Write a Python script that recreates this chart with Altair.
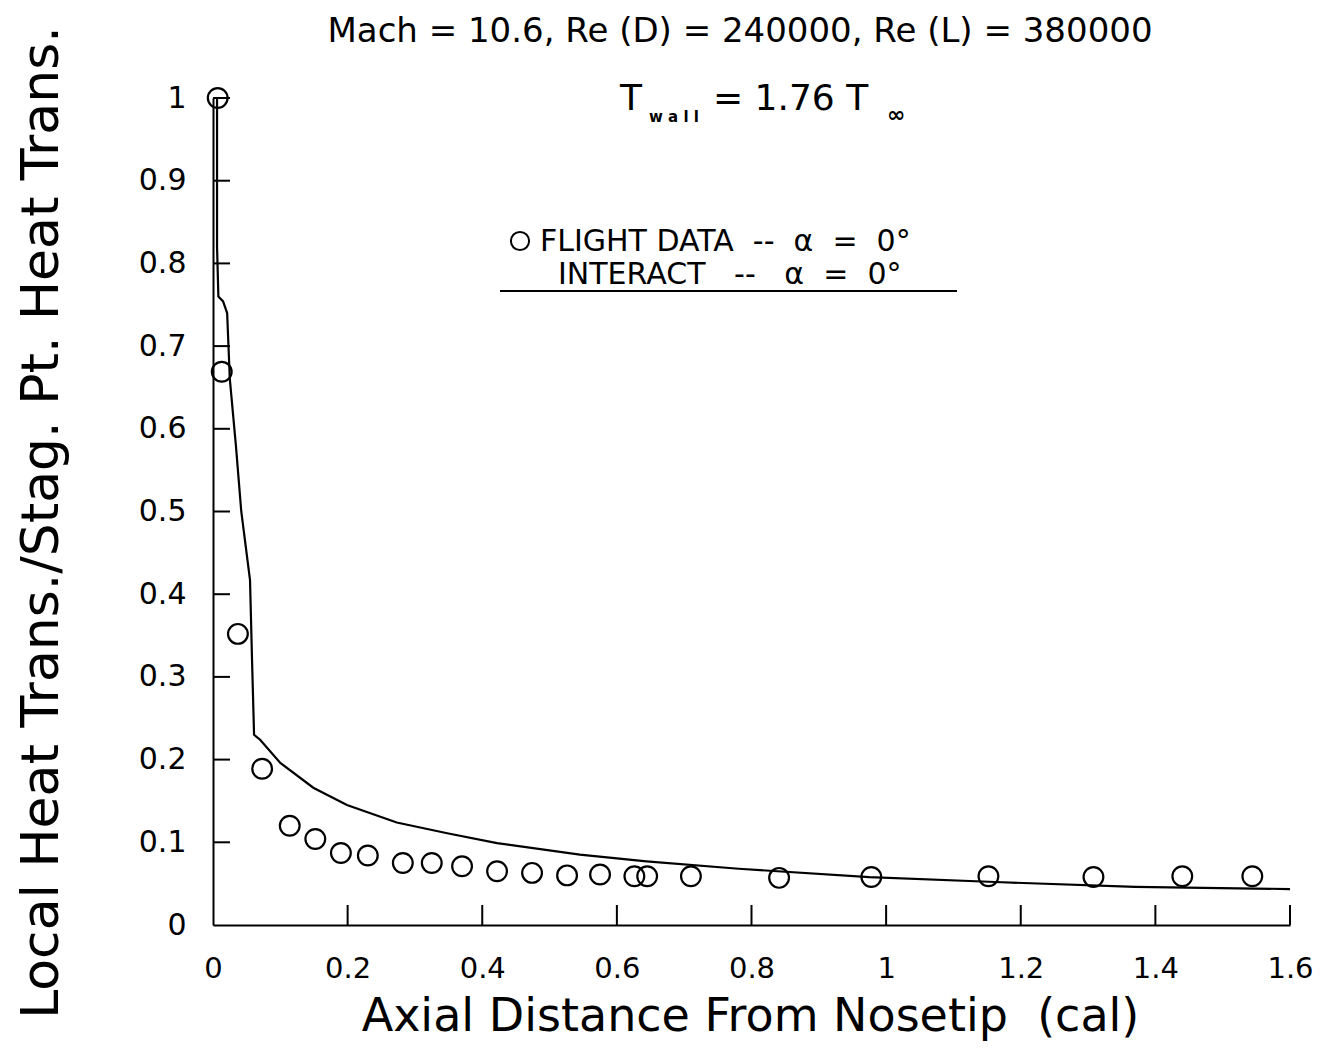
import altair as alt
import pandas as pd

# Flight data (circles)
flight_x = [0.007, 0.013, 0.037, 0.073, 0.114, 0.152, 0.190, 0.230, 0.282, 0.325,
            0.370, 0.422, 0.474, 0.526, 0.575, 0.626, 0.645, 0.710, 0.841, 0.978,
            1.152, 1.308, 1.440, 1.544]
flight_y = [1.000, 0.669, 0.352, 0.189, 0.120, 0.104, 0.087, 0.084, 0.075, 0.075,
            0.071, 0.065, 0.063, 0.060, 0.061, 0.059, 0.059, 0.059, 0.057, 0.058,
            0.059, 0.058, 0.059, 0.059]

# INTERACT prediction (line)
interact_x = [0.006, 0.006, 0.008, 0.015, 0.021, 0.025, 0.034, 0.042, 0.055, 0.058,
              0.061, 0.070, 0.100, 0.149, 0.199, 0.273, 0.348, 0.422, 0.545, 0.644,
              0.781, 0.975, 1.162, 1.370, 1.600]
interact_y = [1.000, 0.820, 0.760, 0.754, 0.740, 0.660, 0.580, 0.500, 0.417, 0.320,
              0.230, 0.224, 0.196, 0.166, 0.145, 0.124, 0.111, 0.099, 0.085, 0.077,
              0.068, 0.058, 0.052, 0.046, 0.0435]

x_tick_values = [0, 0.2, 0.4, 0.6, 0.8, 1.0, 1.2, 1.4, 1.6]
y_tick_values = [0, 0.1, 0.2, 0.3, 0.4, 0.5, 0.6, 0.7, 0.8, 0.9, 1.0]

title_text = "Mach = 10.6, Re (D) = 240000, Re (L) = 380000"
x_title = "Axial Distance From Nosetip\u00a0 (cal)"
y_title = "Local Heat Trans./Stag. Pt. Heat Trans."
legend_1 = "FLIGHT DATA\u00a0 --\u00a0 \u03b1 \u00a0=\u00a0 0\u00b0"
legend_2 = "INTERACT\u00a0 \u00a0--\u00a0 \u00a0\u03b1 \u00a0=\u00a0 0\u00b0"

W, H = 1077, 827
FONT = "DejaVu Sans"

df_flight = pd.DataFrame({"x": flight_x, "y": flight_y})
df_line = pd.DataFrame({"x": interact_x, "y": interact_y})
df_xt = pd.DataFrame({"x": [v for v in x_tick_values if v > 0]})
df_yt = pd.DataFrame({"y": [v for v in y_tick_values if v > 0]})

xs = alt.Scale(domain=[0, 1.6], nice=False, zero=False)
ys = alt.Scale(domain=[0, 1], nice=False, zero=False)

x_axis = alt.Axis(values=x_tick_values, format="~g", grid=False, ticks=True, tickSize=0,
                  domain=True, domainColor="black", domainWidth=2,
                  labelFont=FONT, labelFontSize=29, labelColor="black", labelPadding=29,
                  labelFlush=False, labelOverlap=False,
                  title=x_title, titleFont=FONT, titleFontSize=46, titleFontWeight="normal",
                  titleColor="black", titleX=537, titleY=105, titleAlign="center",
                  titleBaseline="alphabetic", titleAnchor="middle")
y_axis = alt.Axis(values=y_tick_values, format="~g", grid=False, ticks=True, tickSize=0,
                  domain=True, domainColor="black", domainWidth=2,
                  labelFont=FONT, labelFontSize=30, labelColor="black", labelPadding=27,
                  labelFlush=False, labelOverlap=False,
                  title=y_title, titleFont=FONT, titleFontSize=52, titleFontWeight="normal",
                  titleColor="black", titleX=-172, titleY=424, titleAngle=270,
                  titleAlign="center", titleBaseline="middle")

X = alt.X("x:Q", scale=xs, axis=x_axis)
Y = alt.Y("y:Q", scale=ys, axis=y_axis)

points = alt.Chart(df_flight).mark_point(shape="circle", filled=False, color="black",
                                          strokeWidth=2.2, size=390, opacity=1).encode(x=X, y=Y)
line = alt.Chart(df_line).mark_line(color="black", strokeWidth=2.2).encode(x=X, y=Y)

xticks = alt.Chart(df_xt).mark_rule(color="black", strokeWidth=2).encode(
    x=X, y=alt.value(H), y2=alt.value(H - 20))
yticks = alt.Chart(df_yt).mark_rule(color="black", strokeWidth=2).encode(
    y=Y, x=alt.value(0), x2=alt.value(17))


def label(text, x, y, size, align="left", weight="normal"):
    return alt.Chart(pd.DataFrame({"t": [text]})).mark_text(
        font=FONT, fontSize=size, color="black", align=align, baseline="alphabetic",
        fontWeight=weight
    ).encode(text="t:N", x=alt.value(x), y=alt.value(y))


title = label(title_text, 527, -56, 34, "center")
t1 = label("T", 407, 12, 36)
t_wall = label("w a l l", 436, 24, 15, weight="bold")
t2 = label("= 1.76 T", 500, 12, 36)
t_inf = label("\u221e", 674, 24, 22, weight="bold")
leg1 = label(legend_1, 327, 153, 30)
leg2 = label(legend_2, 345, 186, 30)

leg_circle = alt.Chart(pd.DataFrame({"t": ["o"]})).mark_point(
    shape="circle", filled=False, color="black", strokeWidth=2, size=330, opacity=1
).encode(x=alt.value(307), y=alt.value(143))
leg_rule = alt.Chart(pd.DataFrame({"t": ["r"]})).mark_rule(color="black", strokeWidth=2).encode(
    x=alt.value(287), x2=alt.value(744), y=alt.value(193))

chart = alt.layer(line, points, xticks, yticks, title, t1, t_wall, t2, t_inf,
                  leg1, leg2, leg_circle, leg_rule).properties(
    width=W, height=H,
    padding={"left": 205, "top": 90, "right": 30, "bottom": 122},
    autosize=alt.AutoSizeParams(type="none"),
    background="white",
).configure_view(stroke=None)

chart.save("out.html", embed_options={"renderer": "svg", "actions": False})
